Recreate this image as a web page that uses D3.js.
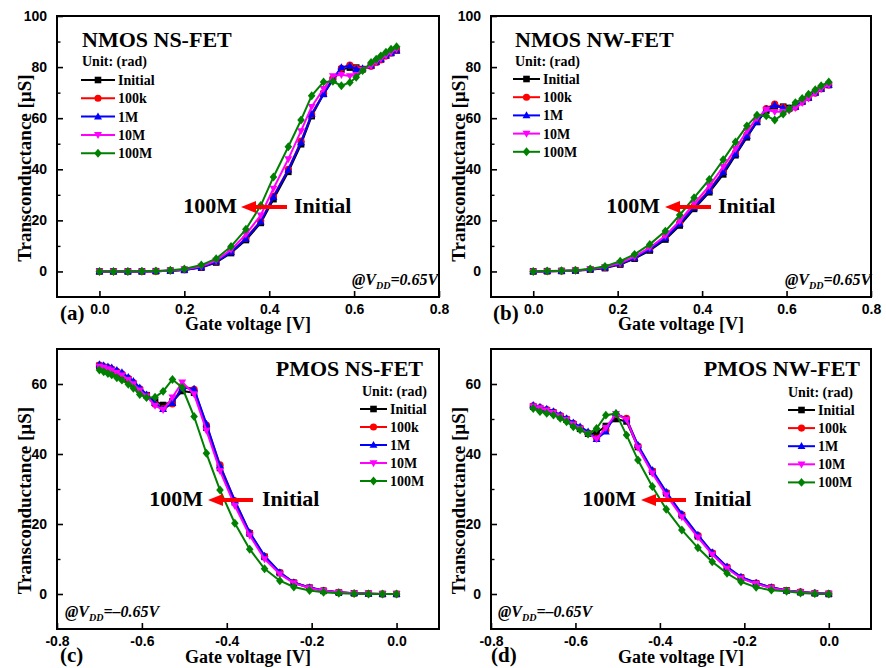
<!DOCTYPE html>
<html>
<head>
<meta charset="utf-8">
<script src="https://cdn.jsdelivr.net/npm/d3@7"></script>
<style>
  html, body { margin: 0; padding: 0; background: #fff; }
  svg { display: block; }
</style>
</head>
<body>
<svg id="chart" width="886" height="668"></svg>
<script>
// ---- series definitions ----
const seriesNames = ["Initial", "100k", "1M", "10M", "100M"];

// ---- tick labels ----
const xTicksN = [0.0, 0.2, 0.4, 0.6, 0.8];
const xTicksP = [-0.8, -0.6, -0.4, -0.2, 0.0];
const yTicksN = [0, 20, 40, 60, 80, 100];
const yMinorN = [10, 30, 50, 70, 90];
const yTicksP = [0, 20, 40, 60];
const yMinorP = [10, 30, 50];

// ---- (a) NMOS NS-FET : gate voltage [V] and transconductance [uS] ----
const vgNmosNs = [0, 0.033, 0.067, 0.1, 0.133, 0.167, 0.2, 0.24, 0.275, 0.31, 0.345, 0.38, 0.41, 0.445, 0.475, 0.5, 0.528, 0.55, 0.57, 0.59, 0.605, 0.62, 0.64, 0.652, 0.663, 0.675, 0.687, 0.7];
const gmNmosNsInitial = [0, 0, 0, 0, 0.1, 0.3, 0.6, 1.5, 3.5, 7.2, 12.3, 19.0, 28.3, 39.0, 49.8, 60.8, 69.5, 75.0, 79.0, 79.8, 79.8, 79.2, 80.5, 82.0, 83.0, 84.5, 85.5, 86.5];
const gmNmosNs100k    = [0, 0, 0, 0, 0.1, 0.3, 0.7, 1.7, 3.9, 7.7, 13.0, 19.8, 29.5, 40.0, 51.0, 61.5, 69.8, 75.5, 79.5, 80.8, 79.5, 79.0, 80.3, 81.8, 82.8, 84.3, 85.5, 86.5];
const gmNmosNs1M      = [0, 0, 0, 0, 0.1, 0.3, 0.6, 1.6, 3.8, 7.5, 12.8, 19.5, 29.1, 39.8, 50.5, 61.6, 69.4, 75.3, 79.9, 80.5, 79.2, 79.5, 80.5, 82.0, 83.0, 84.5, 85.5, 86.5];
const gmNmosNs10M     = [0, 0, 0, 0, 0.1, 0.4, 0.8, 2.0, 4.3, 8.5, 14.5, 22.0, 32.5, 44.0, 55.0, 64.5, 71.5, 76.5, 77.0, 76.5, 77.0, 79.0, 80.5, 82.0, 83.2, 84.6, 85.8, 87.0];
const gmNmosNs100M    = [0, 0, 0, 0.1, 0.2, 0.5, 1.0, 2.5, 5.0, 9.8, 16.5, 25.8, 37.0, 48.8, 59.3, 68.8, 74.2, 74.4, 72.7, 74.0, 76.0, 78.6, 81.8, 83.1, 84.4, 85.8, 87.0, 88.0];

// ---- (b) NMOS NW-FET ----
const vgNmosNw = [0, 0.033, 0.067, 0.1, 0.135, 0.17, 0.206, 0.24, 0.276, 0.313, 0.347, 0.381, 0.417, 0.45, 0.479, 0.506, 0.53, 0.552, 0.572, 0.592, 0.606, 0.621, 0.637, 0.652, 0.668, 0.682, 0.7];
const gmNmosNwInitial = [0, 0.1, 0.2, 0.3, 0.7, 1.3, 2.7, 5.0, 8.2, 12.5, 18.0, 24.5, 31.0, 38.0, 45.5, 52.5, 58.5, 63.0, 64.5, 64.5, 64.0, 64.5, 66.5, 68.0, 70.0, 71.5, 73.0];
const gmNmosNw100k    = [0, 0.1, 0.2, 0.4, 0.8, 1.5, 3.0, 5.4, 8.8, 13.3, 19.0, 25.5, 32.0, 39.2, 46.5, 53.5, 59.0, 63.8, 65.5, 64.3, 63.5, 64.3, 66.3, 68.0, 69.8, 71.5, 73.0];
const gmNmosNw1M      = [0, 0.1, 0.2, 0.4, 0.8, 1.5, 3.0, 5.3, 8.6, 13.0, 18.7, 25.0, 31.5, 38.9, 45.9, 53.0, 58.5, 63.5, 65.2, 64.0, 63.8, 64.5, 66.5, 68.0, 70.0, 71.5, 73.0];
const gmNmosNw10M     = [0, 0.1, 0.2, 0.4, 0.9, 1.7, 3.3, 5.8, 9.3, 14.0, 19.8, 26.5, 33.5, 41.0, 48.0, 55.0, 60.0, 63.3, 62.5, 62.5, 63.0, 64.0, 66.0, 67.8, 69.8, 71.5, 73.0];
const gmNmosNw100M    = [0, 0.2, 0.3, 0.5, 1.0, 2.0, 4.0, 6.7, 10.6, 15.8, 22.1, 28.9, 36.0, 43.7, 50.7, 57.0, 61.2, 60.9, 59.3, 61.6, 63.5, 66.1, 67.7, 69.4, 71.1, 72.7, 74.2];

// ---- (c) PMOS NS-FET ----
const vgPmosNs = [-0.7, -0.69, -0.68, -0.671, -0.659, -0.647, -0.632, -0.62, -0.605, -0.589, -0.569, -0.55, -0.528, -0.505, -0.477, -0.448, -0.416, -0.381, -0.346, -0.311, -0.275, -0.242, -0.205, -0.172, -0.136, -0.1, -0.066, -0.033, 0];
const gmPmosNsInitial = [65.2, 64.8, 64.4, 64.0, 63.3, 62.5, 61.3, 60.0, 58.3, 56.8, 55.0, 54.0, 55.0, 58.0, 57.5, 47.5, 36.0, 26.2, 17.3, 10.6, 6.0, 3.2, 1.8, 0.9, 0.4, 0.2, 0.1, 0, 0];
const gmPmosNs100k    = [65.4, 65.0, 64.7, 64.3, 63.6, 62.9, 61.6, 60.4, 58.6, 56.8, 54.2, 53.0, 54.3, 59.4, 58.5, 48.3, 36.9, 26.6, 17.5, 10.8, 6.1, 3.3, 1.8, 1.0, 0.5, 0.2, 0.1, 0, 0];
const gmPmosNs1M      = [65.6, 65.3, 65.0, 64.7, 64.0, 63.3, 62.0, 60.8, 59.0, 57.0, 54.5, 52.8, 54.5, 59.0, 58.6, 48.6, 36.7, 26.7, 17.6, 10.9, 6.2, 3.3, 1.9, 1.0, 0.5, 0.2, 0.1, 0, 0];
const gmPmosNs10M     = [65.0, 64.7, 64.3, 63.9, 63.2, 62.5, 61.2, 60.0, 58.2, 56.5, 53.8, 52.6, 56.2, 60.5, 57.1, 46.7, 35.2, 25.2, 16.7, 10.0, 5.7, 3.1, 1.7, 0.9, 0.4, 0.2, 0.1, 0, 0];
const gmPmosNs100M    = [64.0, 63.5, 63.0, 62.6, 61.8, 61.1, 59.9, 58.8, 57.0, 56.1, 56.2, 57.9, 61.3, 59.0, 50.7, 40.2, 29.7, 20.2, 12.8, 7.2, 3.8, 2.0, 1.0, 0.5, 0.2, 0.1, 0, 0, 0];

// ---- (d) PMOS NW-FET ----
const vgPmosNw = [-0.7, -0.684, -0.668, -0.652, -0.636, -0.621, -0.605, -0.589, -0.57, -0.55, -0.528, -0.504, -0.479, -0.452, -0.418, -0.385, -0.348, -0.31, -0.276, -0.241, -0.208, -0.172, -0.136, -0.1, -0.067, -0.033, 0];
const gmPmosNwInitial = [53.5, 53.0, 52.5, 51.8, 50.8, 49.8, 48.5, 47.2, 45.8, 46.0, 48.0, 50.0, 49.3, 42.0, 35.0, 28.8, 22.5, 16.5, 11.5, 7.5, 4.7, 3.0, 1.8, 1.0, 0.5, 0.2, 0];
const gmPmosNw100k    = [53.8, 53.3, 52.7, 52.0, 51.0, 50.0, 48.8, 47.5, 46.0, 44.5, 46.8, 51.3, 50.2, 42.3, 35.2, 29.0, 22.7, 16.8, 11.8, 7.7, 4.8, 3.1, 1.9, 1.0, 0.6, 0.3, 0.1];
const gmPmosNw1M      = [54.0, 53.5, 52.9, 52.2, 51.2, 50.2, 49.0, 47.8, 46.4, 44.2, 46.4, 51.6, 49.9, 42.6, 35.4, 29.2, 22.9, 16.9, 11.9, 7.8, 4.9, 3.2, 1.9, 1.0, 0.6, 0.3, 0.1];
const gmPmosNw10M     = [53.6, 53.1, 52.5, 51.8, 50.8, 49.8, 48.5, 47.3, 45.8, 44.3, 47.5, 51.5, 49.8, 41.8, 34.5, 28.3, 22.0, 16.2, 11.3, 7.3, 4.5, 2.9, 1.7, 0.9, 0.5, 0.2, 0.1];
const gmPmosNw100M    = [53.0, 52.1, 51.6, 51.1, 50.2, 49.2, 47.8, 46.9, 45.7, 47.3, 51.1, 51.6, 45.4, 38.3, 30.7, 24.2, 18.3, 13.2, 9.2, 5.9, 3.5, 1.9, 1.1, 0.8, 0.3, 0.1, 0];

// ---- styling ----
const seriesColors = ["#000000", "#ff0000", "#0000ff", "#ff00ff", "#008000"];
const seriesMarkers = ["square", "circle", "triUp", "triDown", "diamond"];
const SERIF = "'Liberation Serif', 'Times New Roman', serif";
const SANS = "'Liberation Sans', Arial, sans-serif";

// panel layout: frame box, axis domains and text placement
const panels = [
  {
    letter: "(a)", title: "NMOS NS-FET", vdd: "0.65V",
    box: { left: 57, right: 439, top: 16, bottom: 297 },
    xDomain: [-0.1, 0.8], yDomain: [-10, 100],
    xTicks: xTicksN, yTicks: yTicksN, yMinor: yMinorN,
    vg: vgNmosNs, gm: [gmNmosNsInitial, gmNmosNs100k, gmNmosNs1M, gmNmosNs10M, gmNmosNs100M],
    titlePos: { x: 82, y: 47, anchor: "start" },
    unitPos: { x: 82, y: 66 },
    legend: { x0: 81, x1: 115, y: 80, dy: 18.3 },
    note: { end100M: 237, arrowFrom: 287, arrowTo: 241, arrowY: 207, initialX: 294, baseY: 213 },
    vddPos: { x: 352, y: 285 },
    letterPos: { x: 60, y: 320 },
    xTitleY: 330
  },
  {
    letter: "(b)", title: "NMOS NW-FET", vdd: "0.65V",
    box: { left: 491, right: 871, top: 16, bottom: 297 },
    xDomain: [-0.1, 0.8], yDomain: [-10, 100],
    xTicks: xTicksN, yTicks: yTicksN, yMinor: yMinorN,
    vg: vgNmosNw, gm: [gmNmosNwInitial, gmNmosNw100k, gmNmosNw1M, gmNmosNw10M, gmNmosNw100M],
    titlePos: { x: 515, y: 47, anchor: "start" },
    unitPos: { x: 515, y: 66 },
    legend: { x0: 513, x1: 540, y: 79, dy: 18.2 },
    note: { end100M: 660, arrowFrom: 711, arrowTo: 665, arrowY: 207, initialX: 718, baseY: 213 },
    vddPos: { x: 785, y: 285 },
    letterPos: { x: 493, y: 320 },
    xTitleY: 330
  },
  {
    letter: "(c)", title: "PMOS NS-FET", vdd: "\u20130.65V",
    box: { left: 57, right: 439, top: 349, bottom: 629 },
    xDomain: [-0.8, 0.1], yDomain: [-10, 70],
    xTicks: xTicksP, yTicks: yTicksP, yMinor: yMinorP,
    vg: vgPmosNs, gm: [gmPmosNsInitial, gmPmosNs100k, gmPmosNs1M, gmPmosNs10M, gmPmosNs100M],
    titlePos: { x: 423, y: 376, anchor: "end" },
    unitPos: { x: 362, y: 396 },
    legend: { x0: 360, x1: 387, y: 409, dy: 18 },
    note: { end100M: 203, arrowFrom: 253, arrowTo: 208, arrowY: 500, initialX: 262, baseY: 506 },
    vddPos: { x: 65, y: 617 },
    letterPos: { x: 60, y: 662 },
    xTitleY: 663
  },
  {
    letter: "(d)", title: "PMOS NW-FET", vdd: "\u20130.65V",
    box: { left: 491, right: 871, top: 349, bottom: 629 },
    xDomain: [-0.8, 0.1], yDomain: [-10, 70],
    xTicks: xTicksP, yTicks: yTicksP, yMinor: yMinorP,
    vg: vgPmosNw, gm: [gmPmosNwInitial, gmPmosNw100k, gmPmosNw1M, gmPmosNw10M, gmPmosNw100M],
    titlePos: { x: 860, y: 376, anchor: "end" },
    unitPos: { x: 788, y: 397 },
    legend: { x0: 788, x1: 815, y: 410, dy: 18.1 },
    note: { end100M: 636, arrowFrom: 686, arrowTo: 641, arrowY: 500, initialX: 694, baseY: 506 },
    vddPos: { x: 498, y: 617 },
    letterPos: { x: 491, y: 662 },
    xTitleY: 663
  }
];

// marker outline centred on (0,0)
function markerPath(kind) {
  const s = 3.3;
  switch (kind) {
    case "square":  return `M${-s},${-s}H${s}V${s}H${-s}Z`;
    case "circle":  return d3.symbol(d3.symbolCircle, 40)();
    case "triUp":   return `M0,${-s * 1.25}L${s * 1.2},${s * 0.85}L${-s * 1.2},${s * 0.85}Z`;
    case "triDown": return `M0,${s * 1.25}L${s * 1.2},${-s * 0.85}L${-s * 1.2},${-s * 0.85}Z`;
    case "diamond": return `M0,${-s * 1.35}L${s * 1.15},0L0,${s * 1.35}L${-s * 1.15},0Z`;
  }
}

const svg = d3.select("#chart");
svg.append("rect").attr("width", 886).attr("height", 668).attr("fill", "#fff");

panels.forEach(p => {
  const g = svg.append("g");
  const b = p.box;
  const x = d3.scaleLinear().domain(p.xDomain).range([b.left, b.right]);
  const y = d3.scaleLinear().domain(p.yDomain).range([b.bottom, b.top]);

  // bottom axis: inward major ticks, labels below
  const xAxis = d3.axisBottom(x).tickValues(p.xTicks).tickSize(-6).tickPadding(7)
    .tickFormat(d => d3.format(".1f")(d).replace("\u2212", "-"));
  const gx = g.append("g").attr("transform", `translate(0,${b.bottom})`).call(xAxis);
  gx.select(".domain").remove();
  gx.selectAll("line").attr("stroke", "#000").attr("stroke-width", 1.6);
  gx.selectAll("text").attr("font-family", SANS).attr("font-weight", "bold")
    .attr("font-size", 14).attr("fill", "#000");

  // left axis: inward major + minor ticks
  const yAxis = d3.axisLeft(y).tickValues(p.yTicks).tickSize(-6).tickPadding(10);
  const gy = g.append("g").attr("transform", `translate(${b.left},0)`).call(yAxis);
  gy.select(".domain").remove();
  gy.selectAll("line").attr("stroke", "#000").attr("stroke-width", 1.6);
  gy.selectAll("text").attr("font-family", SANS).attr("font-weight", "bold")
    .attr("font-size", 14).attr("fill", "#000");
  const yMinorAxis = d3.axisLeft(y).tickValues(p.yMinor).tickSize(-3.5).tickFormat("");
  const gym = g.append("g").attr("transform", `translate(${b.left},0)`).call(yMinorAxis);
  gym.select(".domain").remove();
  gym.selectAll("line").attr("stroke", "#000").attr("stroke-width", 1.4);

  // frame
  g.append("rect").attr("x", b.left).attr("y", b.top)
    .attr("width", b.right - b.left).attr("height", b.bottom - b.top)
    .attr("fill", "none").attr("stroke", "#000").attr("stroke-width", 2);

  // series
  const line = d3.line().x(d => x(d[0])).y(d => y(d[1]));
  p.gm.forEach((vals, i) => {
    const pts = p.vg.map((v, k) => [v, vals[k]]);
    g.append("path").datum(pts).attr("d", line)
      .attr("fill", "none").attr("stroke", seriesColors[i]).attr("stroke-width", 2)
      .attr("stroke-linejoin", "round");
    g.append("g").selectAll("path").data(pts).join("path")
      .attr("d", markerPath(seriesMarkers[i]))
      .attr("transform", d => `translate(${x(d[0])},${y(d[1])})`)
      .attr("fill", seriesColors[i]);
  });

  // axis titles
  g.append("text").attr("x", (b.left + b.right) / 2).attr("y", p.xTitleY)
    .attr("text-anchor", "middle").attr("font-family", SERIF).attr("font-weight", "bold")
    .attr("font-size", 18).text("Gate voltage [V]");
  g.append("text")
    .attr("transform", `translate(${b.left - 26},${(b.top + b.bottom) / 2 + 11.5}) rotate(-90)`)
    .attr("text-anchor", "middle").attr("font-family", SERIF).attr("font-weight", "bold")
    .attr("font-size", 19).text("Transconductance [\u00b5S]");

  // panel letter
  g.append("text").attr("x", p.letterPos.x).attr("y", p.letterPos.y)
    .attr("font-family", SERIF).attr("font-weight", "bold").attr("font-size", 21).text(p.letter);

  // title + legend
  g.append("text").attr("x", p.titlePos.x).attr("y", p.titlePos.y).attr("text-anchor", p.titlePos.anchor)
    .attr("font-family", SERIF).attr("font-weight", "bold").attr("font-size", 22).text(p.title);
  g.append("text").attr("x", p.unitPos.x).attr("y", p.unitPos.y)
    .attr("font-family", SERIF).attr("font-weight", "bold").attr("font-size", 14).text("Unit: (rad)");
  const L = p.legend;
  seriesNames.forEach((name, i) => {
    const yy = L.y + i * L.dy;
    g.append("line").attr("x1", L.x0).attr("x2", L.x1).attr("y1", yy).attr("y2", yy)
      .attr("stroke", seriesColors[i]).attr("stroke-width", 2);
    g.append("path").attr("d", markerPath(seriesMarkers[i]))
      .attr("transform", `translate(${(L.x0 + L.x1) / 2},${yy})`).attr("fill", seriesColors[i]);
    g.append("text").attr("x", L.x1 + 3).attr("y", yy + 5)
      .attr("font-family", SERIF).attr("font-weight", "bold").attr("font-size", 14).text(name);
  });

  // shift annotation: 100M <- Initial
  const n = p.note;
  g.append("text").attr("x", n.end100M).attr("y", n.baseY).attr("text-anchor", "end")
    .attr("font-family", SERIF).attr("font-weight", "bold").attr("font-size", 22).text("100M");
  g.append("text").attr("x", n.initialX).attr("y", n.baseY)
    .attr("font-family", SERIF).attr("font-weight", "bold").attr("font-size", 22).text("Initial");
  g.append("line").attr("x1", n.arrowFrom).attr("x2", n.arrowTo + 12).attr("y1", n.arrowY).attr("y2", n.arrowY)
    .attr("stroke", "#ff0000").attr("stroke-width", 4);
  g.append("path")
    .attr("d", `M${n.arrowTo},${n.arrowY}L${n.arrowTo + 15},${n.arrowY - 6}L${n.arrowTo + 15},${n.arrowY + 6}Z`)
    .attr("fill", "#ff0000");

  // supply-voltage note
  const t = g.append("text").attr("x", p.vddPos.x).attr("y", p.vddPos.y)
    .attr("font-family", SERIF).attr("font-weight", "bold").attr("font-style", "italic")
    .attr("font-size", 16);
  t.append("tspan").text("@V");
  t.append("tspan").attr("font-size", 10).attr("dy", 4).text("DD");
  t.append("tspan").attr("dy", -4).text("=" + p.vdd);
});
</script>
</body>
</html>
